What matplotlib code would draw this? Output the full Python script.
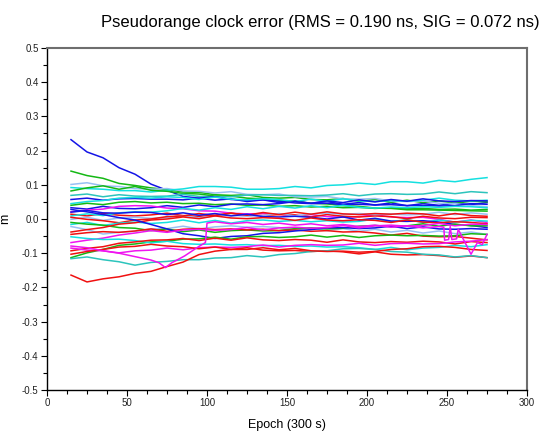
import matplotlib
matplotlib.use('Agg')
import matplotlib.pyplot as plt
from matplotlib.ticker import MultipleLocator, FormatStrFormatter

plt.rcParams['font.family'] = ['Liberation Sans', 'DejaVu Sans']

# --- Data (m), one value every 10 epochs
epochs = [15, 25, 35, 45, 55, 65, 75, 85, 95, 105, 115, 125, 135, 145,
          155, 165, 175, 185, 195, 205, 215, 225, 235, 245, 255, 265, 275]

BLUE = '#1414e6'
GREEN = '#14b814'
RED = '#f01010'
CYAN = '#14e0e0'
MAGENTA = '#f014f0'
LIGHTBLUE = '#98c0f4'
TURQ = '#2cc4bc'

blue_a = [0.232, 0.196, 0.179, 0.150, 0.131, 0.102, 0.084, 0.066, 0.061, 0.055, 0.059, 0.051, 0.056, 0.048,
          0.053, 0.046, 0.051, 0.043, 0.048, 0.041, 0.047, 0.039, 0.045, 0.040, 0.046, 0.042, 0.048]
green_a = [0.140, 0.127, 0.119, 0.104, 0.098, 0.091, 0.086, 0.079, 0.078, 0.071, 0.069, 0.071, 0.063, 0.061,
           0.063, 0.057, 0.056, 0.060, 0.052, 0.057, 0.049, 0.055, 0.048, 0.053, 0.046, 0.052, 0.050]
lightblue_a = [0.101, 0.106, 0.097, 0.095, 0.089, 0.087, 0.089, 0.082, 0.081, 0.076, 0.080, 0.072, 0.071, 0.073,
               0.065, 0.064, 0.066, 0.059, 0.058, 0.060, 0.053, 0.051, 0.053, 0.046, 0.045, 0.039, 0.036]
cyan_top = [0.092, 0.089, 0.087, 0.083, 0.083, 0.079, 0.084, 0.088, 0.095, 0.095, 0.093, 0.087, 0.087, 0.089,
            0.095, 0.091, 0.098, 0.100, 0.105, 0.101, 0.109, 0.109, 0.105, 0.113, 0.109, 0.116, 0.121]
green_b = [0.082, 0.091, 0.097, 0.087, 0.095, 0.084, 0.081, 0.075, 0.073, 0.067, 0.067, 0.061, 0.059, 0.054,
           0.051, 0.046, 0.044, 0.039, 0.037, 0.032, 0.031, 0.027, 0.027, 0.026, 0.025, 0.024, 0.023]
turq_top = [0.069, 0.073, 0.065, 0.071, 0.067, 0.066, 0.067, 0.072, 0.066, 0.065, 0.065, 0.070, 0.071, 0.069,
            0.069, 0.068, 0.070, 0.074, 0.068, 0.073, 0.074, 0.072, 0.073, 0.079, 0.074, 0.080, 0.077]
blue_b = [0.057, 0.061, 0.055, 0.059, 0.060, 0.058, 0.058, 0.056, 0.061, 0.065, 0.057, 0.055, 0.056, 0.052,
          0.047, 0.045, 0.046, 0.042, 0.043, 0.041, 0.042, 0.039, 0.040, 0.038, 0.039, 0.045, 0.043]
blue_c = [0.033, 0.029, 0.037, 0.031, 0.030, 0.033, 0.039, 0.034, 0.041, 0.036, 0.043, 0.044, 0.042, 0.045,
          0.051, 0.046, 0.053, 0.048, 0.056, 0.050, 0.057, 0.052, 0.059, 0.053, 0.051, 0.054, 0.053]
blue_d = [0.028, 0.021, 0.013, 0.004, -0.003, -0.016, -0.029, -0.043, -0.049, -0.057, -0.051, -0.049, -0.042, -0.040,
          -0.035, -0.031, -0.026, -0.025, -0.028, -0.026, -0.021, -0.028, -0.023, -0.029, -0.030, -0.028, -0.030]
blue_e = [0.020, 0.025, 0.018, 0.017, 0.020, 0.019, 0.013, 0.018, 0.011, 0.016, 0.009, 0.014, 0.007, 0.006,
          0.008, 0.005, 0.000, 0.006, -0.003, 0.002, -0.006, -0.007, -0.005, -0.009, -0.016, -0.019, -0.025]
red_a = [0.014, 0.009, 0.016, 0.011, 0.009, 0.012, 0.017, 0.010, 0.008, 0.011, 0.017, 0.012, 0.010, 0.013,
         0.012, 0.006, 0.013, 0.008, 0.006, 0.009, 0.007, 0.001, 0.008, 0.003, 0.001, 0.005, 0.004]
cyan_b = [0.009, 0.015, 0.010, 0.018, 0.021, 0.020, 0.024, 0.031, 0.026, 0.033, 0.028, 0.036, 0.030, 0.037,
          0.032, 0.039, 0.033, 0.040, 0.034, 0.032, 0.035, 0.033, 0.036, 0.034, 0.037, 0.036, 0.033]
lightblue_b = [-0.001, 0.005, -0.004, 0.003, 0.005, 0.002, 0.004, 0.010, 0.003, 0.009, 0.011, 0.008, 0.010, 0.016,
               0.009, 0.015, 0.017, 0.014, 0.016, 0.013, 0.015, 0.012, 0.014, 0.020, 0.013, 0.018, 0.014]
cyan_c = [-0.016, -0.010, -0.019, -0.012, -0.009, -0.013, -0.010, -0.003, -0.011, -0.004, -0.012, -0.005, -0.003, -0.007,
          -0.004, -0.008, -0.005, -0.009, -0.007, 0.000, -0.008, -0.002, -0.010, -0.003, -0.009, -0.004, -0.006]
lightblue_c = [-0.022, -0.031, -0.044, -0.039, -0.036, -0.029, -0.028, -0.021, -0.029, -0.023, -0.020, -0.024, -0.022, -0.025,
               -0.032, -0.026, -0.034, -0.028, -0.036, -0.030, -0.038, -0.033, -0.041, -0.035, -0.043, -0.038, -0.045]
red_b = [-0.038, -0.031, -0.025, -0.015, -0.011, -0.003, 0.000, 0.006, 0.001, 0.009, 0.003, 0.001, 0.004, 0.002,
         -0.004, 0.003, -0.003, -0.005, -0.002, -0.004, -0.010, -0.003, -0.009, -0.011, -0.008, -0.010, -0.014]
red_c = [-0.045, -0.040, -0.037, -0.039, -0.035, -0.029, -0.036, -0.030, -0.028, -0.031, -0.029, -0.032, -0.030, -0.034,
         -0.032, -0.036, -0.034, -0.038, -0.037, -0.041, -0.047, -0.042, -0.050, -0.052, -0.051, -0.056, -0.061]
magenta_a = [-0.069, -0.062, -0.056, -0.047, -0.041, -0.034, -0.039, -0.032, -0.030, -0.033, -0.031, -0.025, -0.032, -0.026,
             -0.024, -0.027, -0.025, -0.019, -0.026, -0.020, -0.018, -0.021, -0.019, -0.013, -0.020, -0.015, -0.016]
magenta_c = [0.021, 0.026, 0.029, 0.037, 0.039, 0.038, 0.032, 0.030, 0.024, 0.023, 0.017, 0.015, 0.016, 0.014,
             0.008, 0.013, 0.007, 0.005, 0.007, 0.012, 0.006, 0.004, 0.005, -0.001, -0.009, -0.003, -0.010]
red_d = [-0.093, -0.086, -0.081, -0.071, -0.067, -0.062, -0.061, -0.057, -0.063, -0.056, -0.062, -0.055, -0.061, -0.063,
         -0.060, -0.062, -0.068, -0.061, -0.067, -0.069, -0.066, -0.068, -0.065, -0.067, -0.073, -0.066, -0.069]
red_e = [-0.103, -0.095, -0.089, -0.082, -0.080, -0.074, -0.079, -0.081, -0.087, -0.082, -0.089, -0.084, -0.091, -0.093,
         -0.092, -0.095, -0.093, -0.096, -0.102, -0.096, -0.103, -0.105, -0.104, -0.107, -0.112, -0.108, -0.113]
green_c = [-0.113, -0.099, -0.089, -0.077, -0.073, -0.067, -0.065, -0.059, -0.058, -0.053, -0.059, -0.052, -0.051, -0.054,
           -0.052, -0.047, -0.053, -0.048, -0.054, -0.049, -0.047, -0.049, -0.048, -0.050, -0.049, -0.043, -0.045]
turq_b = [-0.116, -0.111, -0.119, -0.125, -0.135, -0.127, -0.124, -0.119, -0.119, -0.114, -0.113, -0.107, -0.111, -0.104,
          -0.101, -0.095, -0.093, -0.087, -0.086, -0.089, -0.095, -0.097, -0.103, -0.105, -0.111, -0.107, -0.113]
red_f = [-0.164, -0.184, -0.175, -0.169, -0.159, -0.153, -0.139, -0.126, -0.104, -0.094, -0.089, -0.089, -0.084, -0.090,
         -0.086, -0.093, -0.095, -0.094, -0.097, -0.095, -0.089, -0.087, -0.081, -0.080, -0.083, -0.089, -0.092]
cyan_d = [-0.052, -0.057, -0.060, -0.059, -0.063, -0.070, -0.065, -0.072, -0.074, -0.073, -0.076, -0.075, -0.078, -0.077,
          -0.080, -0.079, -0.082, -0.081, -0.084, -0.089, -0.083, -0.090, -0.085, -0.083, -0.077, -0.081, -0.075]
magenta_d = [-0.085, -0.091, -0.093, -0.099, -0.093, -0.091, -0.085, -0.090, -0.084, -0.082, -0.083, -0.081, -0.076, -0.082,
             -0.077, -0.075, -0.077, -0.076, -0.071, -0.077, -0.072, -0.071, -0.073, -0.072, -0.067, -0.065, -0.060]
green_d = [-0.010, -0.015, -0.018, -0.025, -0.027, -0.034, -0.029, -0.037, -0.032, -0.039, -0.034, -0.032, -0.035, -0.034,
           -0.028, -0.026, -0.029, -0.027, -0.021, -0.019, -0.022, -0.020, -0.014, -0.021, -0.015, -0.020, -0.020]
cyan_e = [0.045, 0.051, 0.054, 0.061, 0.063, 0.061, 0.065, 0.063, 0.057, 0.064, 0.058, 0.056, 0.059, 0.057,
          0.051, 0.058, 0.052, 0.059, 0.053, 0.051, 0.054, 0.052, 0.055, 0.061, 0.055, 0.053, 0.055]
green_e = [0.040, 0.046, 0.042, 0.049, 0.051, 0.047, 0.049, 0.045, 0.046, 0.042, 0.044, 0.040, 0.041, 0.037,
           0.039, 0.035, 0.037, 0.033, 0.034, 0.031, 0.033, 0.030, 0.031, 0.028, 0.029, 0.026, 0.028]
red_g = [0.005, -0.001, -0.005, -0.011, -0.003, 0.000, 0.007, 0.009, 0.016, 0.010, 0.017, 0.011, 0.019, 0.013,
         0.020, 0.014, 0.021, 0.015, 0.013, 0.016, 0.014, 0.017, 0.015, 0.009, 0.016, 0.010, 0.008]

# magenta series with the dip, the jump near epoch 100 and the loop near the end
magenta_b_epochs = [15, 25, 35, 45, 55, 65, 70, 74, 78, 86, 95, 99, 100, 105, 115, 125, 135, 145, 155, 165,
                    175, 185, 195, 205, 215, 225, 235, 245, 248, 248.5, 251, 252, 253, 256, 257, 265, 269, 272, 275]
magenta_b = [-0.079, -0.084, -0.093, -0.100, -0.110, -0.120, -0.128, -0.142, -0.128, -0.108, -0.080, -0.069, -0.012,
             -0.008, -0.014, -0.010, -0.016, -0.012, -0.018, -0.014, -0.020, -0.016, -0.022, -0.018, -0.024, -0.020,
             -0.026, -0.022, -0.024, -0.062, -0.060, -0.022, -0.060, -0.058, -0.030, -0.103, -0.069, -0.075, -0.045]

series = [
  (blue_a, BLUE), (green_a, GREEN), (lightblue_a, LIGHTBLUE), (cyan_top, CYAN), (green_b, GREEN),
  (turq_top, TURQ), (blue_b, BLUE), (cyan_e, CYAN), (green_e, GREEN), (blue_c, BLUE),
  (magenta_c, MAGENTA), (red_a, RED), (cyan_b, CYAN), (lightblue_b, LIGHTBLUE), (red_g, RED),
  (cyan_c, CYAN), (blue_e, BLUE), (lightblue_c, LIGHTBLUE), (green_d, GREEN), (red_b, RED),
  (red_c, RED), (blue_d, BLUE), (magenta_a, MAGENTA), (green_c, GREEN), (cyan_d, CYAN),
  (red_d, RED), (magenta_d, MAGENTA), (red_e, RED), (turq_b, TURQ), (red_f, RED),
]

# --- Plot
fig = plt.figure(figsize=(5.44, 4.32), dpi=100)
ax = fig.add_axes([0.0864, 0.0972, 0.8824, 0.7917])

for values, color in series:
  ax.plot(epochs, values, color=color, linewidth=1.1)
ax.plot(magenta_b_epochs, magenta_b, color=MAGENTA, linewidth=1.1)

ax.set_xlim(0, 300)
ax.set_ylim(-0.5, 0.5)
ax.xaxis.set_major_locator(MultipleLocator(50))
ax.xaxis.set_minor_locator(MultipleLocator(12.5))
ax.yaxis.set_major_locator(MultipleLocator(0.1))
ax.yaxis.set_minor_locator(MultipleLocator(0.05))
ax.yaxis.set_major_formatter(FormatStrFormatter('%.1f'))

ax.tick_params(which='both', direction='out', top=False, right=False, labelsize=7, colors='black', width=0.8)
ax.tick_params(which='major', length=4)
ax.tick_params(which='minor', length=3)
ax.tick_params(axis='both', labelcolor='#222222', pad=2)

ax.spines['left'].set_color('black')
ax.spines['bottom'].set_color('black')
ax.spines['left'].set_linewidth(1.0)
ax.spines['bottom'].set_linewidth(1.0)
ax.spines['top'].set_color('#6e6e6e')
ax.spines['right'].set_color('#6e6e6e')
ax.spines['top'].set_linewidth(1.5)
ax.spines['right'].set_linewidth(1.5)

ax.set_xlabel('Epoch (300 s)', fontsize=9, labelpad=8)
ax.set_ylabel('m', fontsize=9, labelpad=8)

fig.text(540 / 544, 1 - 27 / 432, 'Pseudorange clock error (RMS = 0.190 ns, SIG = 0.072 ns)',
         ha='right', va='baseline', fontsize=12)

plt.savefig('out.png', dpi=100)
